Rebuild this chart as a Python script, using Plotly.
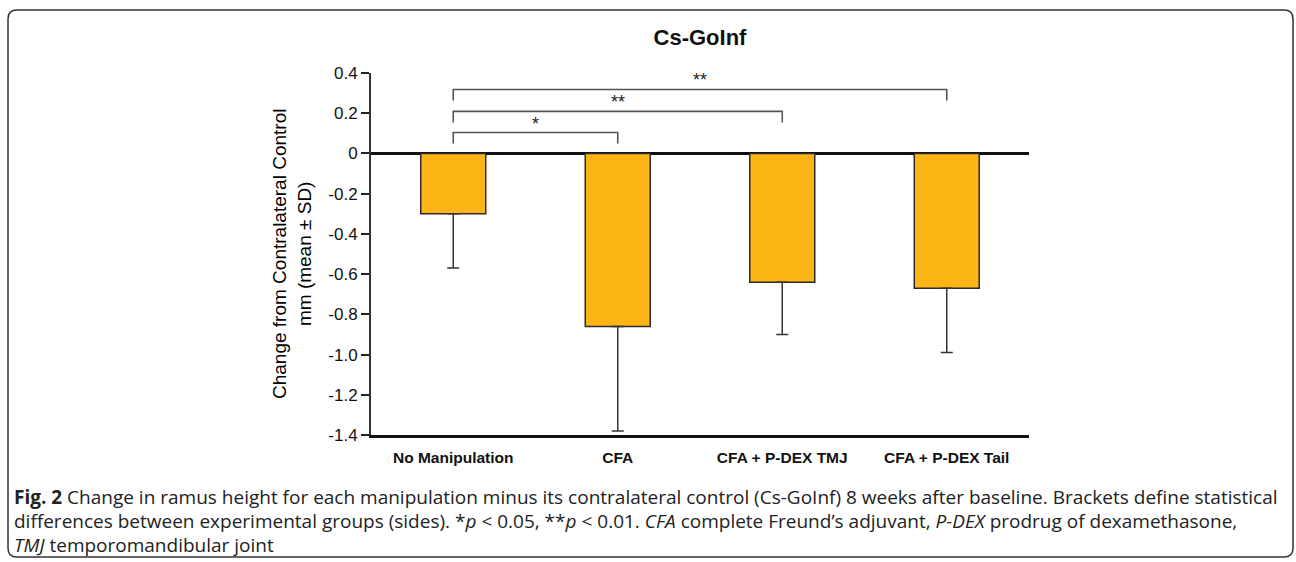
import plotly.graph_objects as go

categories = ["No Manipulation", "CFA", "CFA + P-DEX TMJ", "CFA + P-DEX Tail"]
means = [-0.30, -0.86, -0.64, -0.67]
sds = [0.27, 0.52, 0.26, 0.32]

tick_vals = [0.4, 0.2, 0, -0.2, -0.4, -0.6, -0.8, -1.0, -1.2, -1.4]
tick_text = ["0.4", "0.2", "0", "-0.2", "-0.4", "-0.6", "-0.8", "-1.0", "-1.2", "-1.4"]

# brackets: (from index, to index, height, label)
bracket_from = [0, 0, 0]
bracket_to = [1, 2, 3]
bracket_top = [0.104, 0.209, 0.318]
bracket_label = ["*", "**", "**"]
bracket_drop = 0.055

W, H = 1296, 562
L, R, T, B = 371, 1029, 73, 435


def px(x):
    return (x - L) / (R - L)


def py(y):
    return (B - y) / (B - T)


BAR_COLOR = "#FBB616"
EDGE = "#2b2b2b"

fig = go.Figure()
fig.add_trace(go.Bar(
    x=categories, y=means,
    marker=dict(color=BAR_COLOR, line=dict(color=EDGE, width=1.5)),
    error_y=dict(type="data", symmetric=False, array=[0] * len(sds), arrayminus=sds,
                 color="#333333", thickness=1.5, width=6),
    width=0.395,
    showlegend=False,
))

shapes = []
annotations = []
for a, b, top, lab in zip(bracket_from, bracket_to, bracket_top, bracket_label):
    shapes.append(dict(type="path", xref="x", yref="y",
                       path=f"M {a},{top - bracket_drop} L {a},{top} L {b},{top} L {b},{top - bracket_drop}",
                       line=dict(color="#555555", width=1.6)))
    annotations.append(dict(x=(a + b) / 2, y=top, xref="x", yref="y", text=lab,
                            showarrow=False, yanchor="bottom", yshift=-3,
                            font=dict(family="Liberation Sans, Arial", size=18, color="#222")))

# rounded border
x0, y0, x1, y1, r = 8, 10, 1293, 557, 9
pts = [
    ("M", x0 + r, y0), ("L", x1 - r, y0), ("Q", x1, y0, x1, y0 + r), ("L", x1, y1 - r),
    ("Q", x1, y1, x1 - r, y1), ("L", x0 + r, y1), ("Q", x0, y1, x0, y1 - r), ("L", x0, y0 + r),
    ("Q", x0, y0, x0 + r, y0),
]
path = ""
for p in pts:
    cmd = p[0]
    coords = p[1:]
    s = " ".join(f"{px(coords[i]):.5f},{py(coords[i + 1]):.5f}" for i in range(0, len(coords), 2))
    path += f"{cmd} {s} "
path += "Z"
shapes.append(dict(type="path", xref="paper", yref="paper", path=path,
                   line=dict(color="#333333", width=1.5), layer="below"))

# y-axis title
annotations.append(dict(x=px(292), y=py(254), xref="paper", yref="paper",
                        text="Change from Contralateral Control<br>mm (mean ± SD)",
                        textangle=-90, showarrow=False, xanchor="center", yanchor="middle",
                        font=dict(family="Liberation Sans, Arial", size=19, color="#000")))

cap_font = dict(family="Open Sans, Noto Sans", size=19, color="#222")
caption = [
    "<b>Fig. 2</b> Change in ramus height for each manipulation minus its contralateral control (Cs-GoInf) 8 weeks after baseline. Brackets define statistical",
    "differences between experimental groups (sides). *<i>p</i> &lt; 0.05, **<i>p</i> &lt; 0.01. <i>CFA</i> complete Freund’s adjuvant, <i>P-DEX</i> prodrug of dexamethasone,",
    "<i>TMJ</i> temporomandibular joint",
]
for i, line in enumerate(caption):
    annotations.append(dict(x=px(12), y=py(497 + 24 * i), xref="paper", yref="paper",
                            text=line, showarrow=False, xanchor="left", yanchor="middle",
                            font=cap_font))

fig.update_layout(
    width=W, height=H,
    margin=dict(l=L, r=W - R, t=T, b=H - B, pad=0),
    paper_bgcolor="white", plot_bgcolor="white",
    title=dict(text="<b>Cs-GoInf</b>", x=0.5, xref="paper", y=1 - 37 / H, yanchor="middle",
               font=dict(family="Liberation Sans, Arial", size=22, color="#111")),
    shapes=shapes,
    annotations=annotations,
    bargap=0.6,
)
fig.update_xaxes(
    range=[-0.5, 3.5], showline=True, linecolor="#111", linewidth=2.5,
    ticks="", showgrid=False, ticklabelstandoff=7,
    tickfont=dict(family="Liberation Sans Narrow, Arial Narrow, Liberation Sans", size=15.5, color="#111"),
    tickprefix="<b>", ticksuffix="</b>",
)
fig.update_yaxes(
    range=[-1.4, 0.4], tickvals=tick_vals, ticktext=tick_text,
    showline=True, linecolor="#333", linewidth=2, ticks="outside", ticklen=8, tickwidth=2,
    tickcolor="#222", showgrid=False, zeroline=True, zerolinecolor="#111", zerolinewidth=2.5,
    tickfont=dict(family="Liberation Sans, Arial", size=17, color="#111"),
)

fig.write_html(
    "out.html",
    config={"displayModeBar": False},
    post_script="document.body.style.margin='0';document.body.style.overflow='hidden';",
)
